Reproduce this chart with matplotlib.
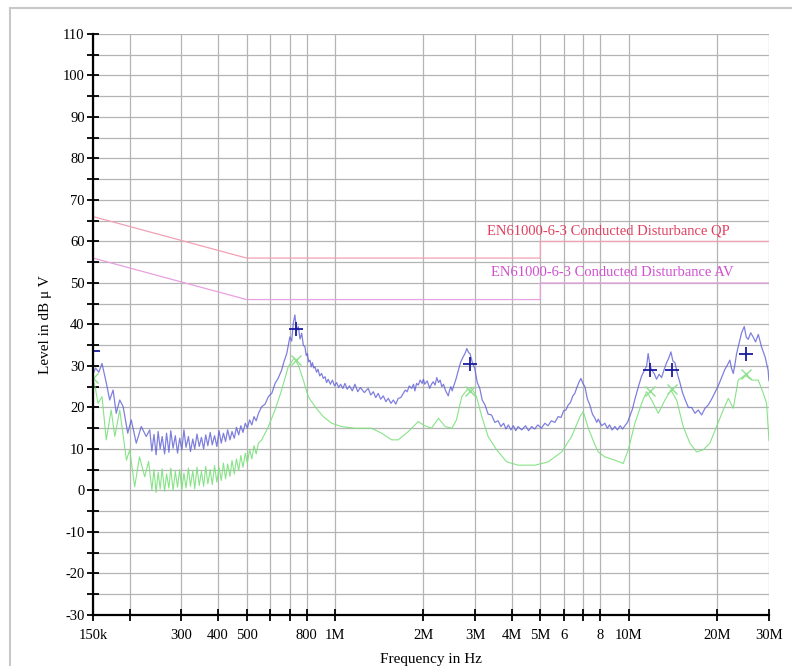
import numpy as np
import matplotlib
matplotlib.use("Agg")
import matplotlib.pyplot as plt
from matplotlib.patches import Rectangle
from matplotlib.ticker import FixedLocator, NullFormatter, NullLocator

plt.rcParams['font.family'] = ['Liberation Serif', 'DejaVu Serif']
plt.rcParams['axes.unicode_minus'] = False

# peak scan (MHz, dBuV)
peak_mhz = [0.150, 0.153, 0.157, 0.161, 0.1665, 0.171, 0.1756, 0.180, 0.185, 0.190,
            0.197, 0.2025, 0.2106, 0.219, 0.2277,
            0.234, 0.238, 0.242, 0.246, 0.250, 0.254, 0.258, 0.263, 0.267, 0.272,
            0.276, 0.281, 0.286, 0.291, 0.296, 0.301, 0.306, 0.311, 0.317, 0.322,
            0.328, 0.333, 0.339, 0.345, 0.351, 0.357, 0.363, 0.369, 0.376, 0.382,
            0.389, 0.396, 0.403, 0.410, 0.417, 0.424, 0.431, 0.439, 0.446, 0.454,
            0.462, 0.470, 0.478, 0.486, 0.495, 0.503, 0.512, 0.521, 0.530, 0.539,
            0.549,
            0.563, 0.578, 0.593, 0.610, 0.625, 0.640, 0.658, 0.670,
            0.685, 0.702, 0.712, 0.721, 0.730, 0.740,
            0.750, 0.760, 0.770, 0.780, 0.790, 0.798, 0.805, 0.813, 0.822, 0.830,
            0.838, 0.846, 0.855, 0.865, 0.875, 0.887, 0.900, 0.912, 0.925, 0.936,
            0.948, 0.964, 0.980, 0.996, 1.013, 1.029, 1.045, 1.063, 1.081, 1.100,
            1.120, 1.145, 1.169, 1.195, 1.220, 1.258, 1.297, 1.323, 1.350, 1.376,
            1.403, 1.430, 1.460, 1.490, 1.518, 1.550, 1.580, 1.610, 1.641, 1.675,
            1.707, 1.735, 1.760, 1.790, 1.824, 1.850, 1.870, 1.895, 1.920, 1.950,
            1.980, 2.000, 2.020, 2.060, 2.100, 2.130, 2.160, 2.190, 2.220, 2.250,
            2.280, 2.310, 2.340, 2.380, 2.430, 2.455, 2.480, 2.505, 2.530, 2.580,
            2.630, 2.680, 2.730, 2.770, 2.810, 2.850, 2.880, 2.930, 2.990, 3.050,
            3.110, 3.170, 3.240, 3.320, 3.410, 3.500, 3.590, 3.670, 3.750, 3.820,
            3.890, 3.970, 4.050, 4.120, 4.200, 4.320, 4.450, 4.560, 4.670, 4.780,
            4.900, 5.040, 5.180, 5.310, 5.450, 5.600, 5.750, 5.880, 6.000, 6.110,
            6.220, 6.330, 6.450, 6.550, 6.640, 6.760, 6.870, 6.980, 7.090, 7.230,
            7.370, 7.520, 7.670, 7.780, 7.870, 8.080, 8.290, 8.450, 8.600, 8.780,
            8.970, 9.150, 9.350, 9.520, 9.700, 9.900, 10.09, 10.29, 10.49, 10.78,
            11.06, 11.28, 11.50, 11.64, 11.80, 11.96, 12.20, 12.43, 12.68, 12.93,
            13.20, 13.45, 13.70, 13.91, 14.13, 14.36, 14.65, 14.93, 15.23, 15.53,
            15.95, 16.37, 16.80, 17.23, 17.70, 18.17, 18.65, 19.14, 19.65, 20.16,
            20.70, 21.24, 21.65, 22.08, 22.38, 22.68, 22.98, 23.28, 23.75, 24.21,
            24.72, 25.10, 25.50, 26.00, 26.50, 27.00, 27.60, 28.30, 29.10, 29.80,
            30.00]
peak_db = [28.0, 29.5, 28.5, 30.6, 25.9, 21.8, 24.2, 18.6, 21.8, 20.2,
           13.8, 17.0, 11.4, 15.4, 13.0,
           14.6, 9.5, 13.5, 8.6, 14.2, 10.0, 13.0, 8.8, 13.8, 9.2,
           14.4, 10.2, 13.2, 9.0, 12.6, 9.8, 14.6, 10.4, 13.0, 9.4,
           12.4, 10.0, 13.6, 10.6, 12.8, 10.0, 13.4, 10.8, 14.0, 11.0,
           13.2, 10.6, 14.4, 11.4, 13.8, 11.8, 14.6, 12.2, 14.2, 12.6,
           15.2, 13.4, 15.6, 14.0, 16.2, 15.0, 17.0, 15.8, 17.8, 16.8,
           18.6,
           20.2, 20.8, 22.6, 23.5, 25.8, 27.0, 29.0, 31.0,
           33.0, 37.0, 36.0, 40.3, 42.3, 38.5,
           39.5, 36.5, 37.9, 35.0, 34.6, 32.5, 33.0, 31.0, 31.4, 29.8,
           30.8, 29.5, 29.8, 28.5, 29.2, 27.6, 28.2, 27.0, 27.4, 26.0,
           26.8, 25.6, 26.6, 25.2, 26.0, 24.8, 25.6, 24.6, 25.8, 24.4,
           25.2, 24.0, 25.6, 23.8, 24.8, 23.6, 24.6, 23.0, 23.8, 22.4,
           23.4, 22.0, 22.8, 21.4, 22.2, 21.0, 21.8, 20.8, 22.2, 22.4,
           23.4, 24.2, 23.8, 25.2, 24.6, 25.6, 24.0, 25.8, 25.4, 26.6,
           25.8, 26.8, 25.6, 26.4, 24.6, 25.6, 26.2, 25.4, 27.2, 26.0,
           26.6, 25.0, 25.6, 24.0, 22.8, 24.2, 25.0, 24.0, 25.0, 26.8,
           29.0, 31.0, 32.2, 33.0, 34.2, 33.2, 33.0, 31.0, 29.4, 26.0,
           24.6, 21.8, 20.6, 18.4, 18.2, 16.4, 16.8, 15.4, 16.2, 14.8,
           15.8, 14.6, 15.6, 14.4, 15.4, 14.6, 15.6, 14.4, 15.4, 14.8,
           15.8, 15.0, 16.2, 15.6, 16.8, 16.4, 17.8, 17.6, 19.2, 19.4,
           20.6, 21.2, 22.8, 23.4, 24.6, 26.0, 27.0, 25.8, 25.0, 22.0,
           20.6, 18.4, 17.4, 16.4, 17.2, 15.6, 16.2, 15.0, 15.8, 14.6,
           15.4, 14.6, 15.6, 14.8, 15.6, 16.4, 18.0, 19.6, 22.0, 25.0,
           27.6, 28.8, 30.0, 33.0, 30.2, 29.0, 28.2, 26.8, 28.0, 27.2,
           29.2, 30.8, 32.0, 33.4, 31.2, 30.8, 28.0, 26.0, 23.6, 22.0,
           20.0, 20.0, 18.6, 19.4, 18.2, 19.8, 20.6, 22.0, 23.6, 25.2,
           27.2, 29.2, 30.2, 31.4, 29.4, 28.2, 30.4, 33.0, 35.6, 38.0,
           39.5, 37.0, 36.4, 38.0, 37.0, 35.8, 37.6, 34.6, 32.2, 29.0,
           26.5]

# average scan (MHz, dBuV)
avg_mhz = [0.150, 0.153, 0.156, 0.161, 0.1665, 0.173, 0.178, 0.185, 0.195, 0.200,
           0.208, 0.216, 0.225, 0.232,
           0.234, 0.238, 0.242, 0.246, 0.250, 0.254, 0.258, 0.263, 0.267, 0.272,
           0.276, 0.281, 0.286, 0.291, 0.296, 0.301, 0.306, 0.311, 0.317, 0.322,
           0.328, 0.333, 0.339, 0.345, 0.351, 0.357, 0.363, 0.369, 0.376, 0.382,
           0.389, 0.396, 0.403, 0.410, 0.417, 0.424, 0.431, 0.439, 0.446, 0.454,
           0.462, 0.470, 0.478, 0.486, 0.495, 0.503, 0.512, 0.521, 0.530, 0.539,
           0.549,
           0.563, 0.593, 0.625, 0.658, 0.693,
           0.726, 0.750, 0.780, 0.811, 0.855, 0.912, 0.974, 1.053, 1.169, 1.332,
           1.441, 1.559, 1.641, 1.776, 1.920, 2.020, 2.130, 2.250, 2.370, 2.500,
           2.590, 2.700, 2.810, 2.920, 3.030, 3.160, 3.320, 3.550, 3.840, 4.200,
           4.790, 5.320, 5.910, 6.390, 6.820, 7.000, 7.280, 7.670, 7.870, 8.290,
           8.970, 9.570, 9.960, 10.49, 11.06, 11.50, 11.96, 12.60, 13.28, 13.91,
           14.55, 15.32, 16.14, 17.01, 17.93, 18.88, 19.90, 20.97, 21.81, 22.68,
           23.58, 24.86, 26.20, 27.60, 28.70, 29.45, 30.00]
avg_db = [27.0, 24.5, 21.0, 22.6, 12.2, 19.4, 13.0, 19.4, 7.3, 9.8,
          0.9, 8.1, 3.3, 7.0,
          4.6, 0.2, 5.0, -0.5, 4.4, 0.4, 5.2, -0.2, 4.0, 0.6,
          5.4, 0.0, 4.6, 0.8, 5.0, 0.2, 4.2, 0.6, 5.4, 1.0,
          4.8, 0.4, 5.6, 1.2, 4.6, 1.0, 5.8, 1.6, 5.0, 1.4,
          6.0, 2.0, 5.6, 2.4, 6.6, 2.8, 6.4, 3.4, 7.2, 4.0,
          7.6, 4.8, 8.4, 5.6, 9.0, 6.6, 9.8, 7.6, 10.8, 8.8,
          11.4,
          12.2, 15.4, 19.4, 24.2, 29.8,
          31.9, 30.2, 26.6, 22.6, 20.2, 17.8, 16.2, 15.4, 15.0, 15.0,
          13.8, 12.2, 12.2, 14.2, 16.6, 15.6, 15.0, 17.4, 15.4, 15.0,
          17.0, 22.6, 24.2, 24.6, 22.6, 17.8, 13.0, 9.8, 6.9, 6.1,
          6.1, 6.9, 9.3, 13.0, 17.8, 19.0, 15.0, 11.0, 9.3, 8.1,
          7.3, 6.5, 9.8, 16.2, 21.0, 23.8, 21.8, 18.6, 21.8, 24.2,
          21.8, 15.4, 11.4, 9.3, 9.8, 11.4, 15.4, 19.4, 22.2, 19.8,
          26.6, 27.8, 26.6, 26.6, 23.4, 21.0, 12.0]

# final measurement points
mark_mhz = [0.150, 0.735, 2.87, 11.8, 14.0, 25.0]
mark_qp = [33.5, 39.0, 30.5, 29.0, 29.0, 33.0]
mark_av = [27.0, 31.5, 24.0, 24.0, 24.5, 28.0]

# limit lines
qp_lim_mhz = [0.15, 0.5, 5.0, 5.0, 30.0]
qp_lim_db = [66, 56, 56, 60, 60]
av_lim_mhz = [0.15, 0.5, 5.0, 5.0, 30.0]
av_lim_db = [56, 46, 46, 50, 50]

xtick_hz = [150e3, 200e3, 300e3, 400e3, 500e3, 600e3, 700e3, 800e3, 1e6, 2e6, 3e6,
            4e6, 5e6, 6e6, 7e6, 8e6, 10e6, 20e6, 30e6]
xtick_lbl = ['150k', '', '300', '400', '500', '', '', '800', '1M', '2M', '3M',
             '4M', '5M', '6', '', '8', '10M', '20M', '30M']

fig = plt.figure(figsize=(7.92, 6.66), dpi=100)
fig.patches.append(Rectangle((0.0126, -0.1), 1.2, 1.0880, transform=fig.transFigure,
                             fill=False, edgecolor='#c8c8c8', linewidth=1.5))
ax = fig.add_axes([0.1174, 0.0766, 0.8535, 0.8724])

hz = 1e6
ax.plot(np.array(peak_mhz) * hz, peak_db, color='#5f5fd6', linewidth=0.9, alpha=0.8)
ax.plot(np.array(avg_mhz) * hz, avg_db, color='#7be07b', linewidth=0.8, alpha=0.9)
ax.plot(np.array(qp_lim_mhz) * hz, qp_lim_db, color='#f2a0b4', linewidth=0.9)
ax.plot(np.array(av_lim_mhz) * hz, av_lim_db, color='#e8a0e0', linewidth=0.9)
ax.plot(np.array(mark_mhz) * hz, mark_qp, linestyle='none', marker='+', markersize=10,
        markeredgewidth=1.3, color='#1a1aa0')
ax.plot(np.array(mark_mhz) * hz, mark_av, linestyle='none', marker='x', markersize=7,
        markeredgewidth=1.0, color='#8ee08e')

ax.text(3.3e6, 61.0, 'EN61000-6-3 Conducted Disturbance QP', color='#e04060',
        fontsize=10.5, va='bottom', ha='left')
ax.text(3.4e6, 51.0, 'EN61000-6-3 Conducted Disturbance AV', color='#d050d0',
        fontsize=10.5, va='bottom', ha='left')

ax.set_xscale('log')
ax.set_xlim(150e3, 30e6)
ax.set_ylim(-30, 110)
ax.xaxis.set_major_locator(FixedLocator(xtick_hz))
ax.set_xticklabels(xtick_lbl)
ax.xaxis.set_minor_locator(NullLocator())
ax.xaxis.set_minor_formatter(NullFormatter())
ax.set_yticks(np.arange(-30, 111, 10))
ax.set_yticks(np.arange(-25, 110, 10), minor=True)
ax.grid(True, which='both', color='#b4b4b4', linewidth=0.9)
ax.tick_params(which='both', direction='inout', length=8, width=1.3, labelsize=10.5)
ax.tick_params(axis='x', pad=6)
ax.tick_params(axis='y', pad=2)
for s in ['top', 'right']:
    ax.spines[s].set_visible(False)
for s in ['left', 'bottom']:
    ax.spines[s].set_linewidth(1.6)
ax.set_axisbelow(True)

ax.set_ylabel('Level in dB μ V', fontsize=11, labelpad=8)
ax.set_xlabel('Frequency in Hz', fontsize=11, labelpad=8)

fig.savefig('out.png', dpi=100)
